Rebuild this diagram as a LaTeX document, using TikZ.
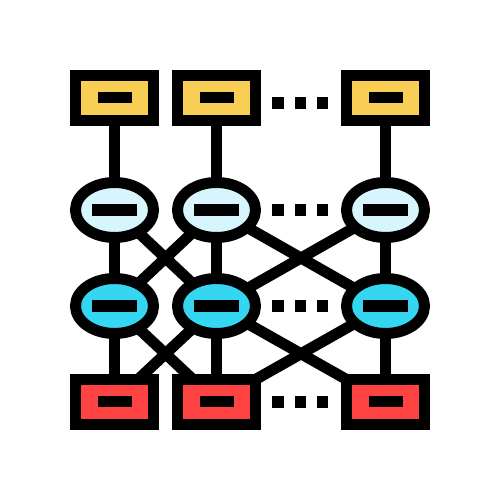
\documentclass[tikz,border=0pt]{standalone}
\usetikzlibrary{shapes.geometric,backgrounds}

\definecolor{inyellow}{RGB}{249,206,84}
\definecolor{hidpale}{RGB}{214,245,252}
\definecolor{hidcyan}{RGB}{52,214,241}
\definecolor{outred}{RGB}{255,66,66}
\newcommand{\boxbar}{\rule{0.68cm}{0.22cm}}
\newcommand{\cellbar}{\rule{0.90cm}{0.24cm}}

\begin{document}
\begin{tikzpicture}[node distance=2.04cm,
    unit/.style={draw, line width=0.22cm, inner sep=0pt},
    layerbox/.style={unit, rectangle, minimum width=1.56cm, minimum height=0.90cm},
    cell/.style={unit, ellipse, minimum width=1.56cm, minimum height=1.10cm},
    link/.style={line width=0.22cm},
    gap/.style={fill, inner sep=0pt, minimum size=0.23cm}]
    \useasboundingbox (0,0) rectangle (10,-10);

    \node [layerbox, fill=inyellow] at (2.29,-1.96) (in1) {\boxbar};
    \node [layerbox, fill=inyellow, right of=in1] (in2) {\boxbar};
    \node [layerbox, fill=inyellow, right of=in2, node distance=3.38cm] (in3) {\boxbar};
    \node [cell, fill=hidpale, below of=in1, node distance=2.24cm] (hid1) {\cellbar};
    \node [cell, fill=hidpale, below of=in2, node distance=2.24cm] (hid2) {\cellbar};
    \node [cell, fill=hidpale, below of=in3, node distance=2.24cm] (hid3) {\cellbar};
    \node [cell, fill=hidcyan, below of=hid1, node distance=1.92cm] (hdn1) {\cellbar};
    \node [cell, fill=hidcyan, below of=hid2, node distance=1.92cm] (hdn2) {\cellbar};
    \node [cell, fill=hidcyan, below of=hid3, node distance=1.92cm] (hdn3) {\cellbar};
    \node [layerbox, fill=outred, below of=hdn1, node distance=1.91cm] (out1) {\boxbar};
    \node [layerbox, fill=outred, below of=hdn2, node distance=1.91cm] (out2) {\boxbar};
    \node [layerbox, fill=outred, below of=hdn3, node distance=1.91cm] (out3) {\boxbar};

    \foreach \y/\r in {-2.06/in,-4.20/hid,-6.12/hdn,-8.04/out}
        \foreach \x/\k in {5.56/a,6.01/b,6.45/c}
            \node [gap] (\r\k) at (\x,\y) {};

    \begin{scope}[on background layer]
    \draw [link] (in1.center) -- (hid1.center);
    \draw [link] (in2.center) -- (hid2.center);
    \draw [link] (in3.center) -- (hid3.center);
    \draw [link] (hid1.center) -- (hdn1.center);
    \draw [link] (hid2.center) -- (hdn2.center);
    \draw [link] (hid3.center) -- (hdn3.center);
    \draw [link] (hid1.center) -- (hdn2.center);
    \draw [link] (hid2.center) -- (hdn1.center);
    \draw [link] (hid2.center) -- (hdn3.center);
    \draw [link] (hid3.center) -- (hdn2.center);
    \draw [link] (hdn1.center) -- (out1.center);
    \draw [link] (hdn2.center) -- (out2.center);
    \draw [link] (hdn3.center) -- (out3.center);
    \draw [link] (hdn1.center) -- (out2.center);
    \draw [link] (hdn2.center) -- (out1.center);
    \draw [link] (hdn2.center) -- (out3.center);
    \draw [link] (hdn3.center) -- (out2.center);
    \end{scope}
\end{tikzpicture}
\end{document}
